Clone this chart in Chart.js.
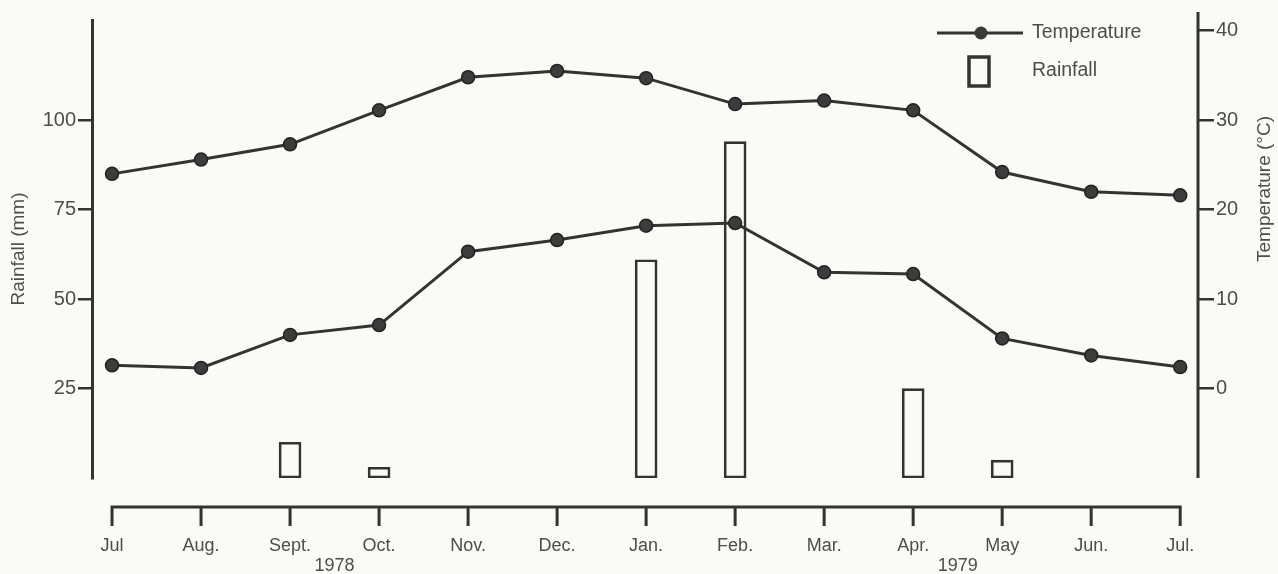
<!DOCTYPE html>
<html>
<head>
<meta charset="utf-8">
<title>Temperature and rainfall, 1978-1979</title>
<script src="https://cdn.jsdelivr.net/npm/chart.js@4.4.1/dist/chart.umd.min.js"></script>
<style>
  html, body { margin: 0; padding: 0; background: #fafaf6; }
  #wrap { width: 1278px; height: 574px; position: relative; }
</style>
</head>
<body>
<div id="wrap"><canvas id="chart"></canvas></div>
<script>
const months = ['Jul', 'Aug.', 'Sept.', 'Oct.', 'Nov.', 'Dec.', 'Jan.', 'Feb.', 'Mar.', 'Apr.', 'May', 'Jun.', 'Jul.'];
const tempMax = [24.0, 25.6, 27.3, 31.1, 34.8, 35.5, 34.7, 31.8, 32.2, 31.1, 24.2, 22.0, 21.6];
const tempMin = [2.6, 2.3, 6.0, 7.1, 15.3, 16.6, 18.2, 18.5, 13.0, 12.8, 5.6, 3.7, 2.4];
const rainfall = [0, 0, 10, 3, 0, 0, 61, 94, 0, 25, 5, 0, 0];
const rainTicks = [25, 50, 75, 100];
const tempTicks = [0, 10, 20, 30, 40];
const years = ['1978', '1979'];

const ink = '#333';
const text = '#4d4d4d';
const family = '"Liberation Sans", Arial, sans-serif';

function points(values) {
  return values.map((v, i) => ({ x: i, y: v }));
}

// axis line under the plot, right border, years, right title and legend
const extras = {
  id: 'extras',
  afterDraw(chart) {
    const { ctx, chartArea, scales } = chart;
    const x = scales.x;
    ctx.save();
    ctx.strokeStyle = ink;
    ctx.lineWidth = 3;

    const ay = 507;
    ctx.beginPath();
    ctx.moveTo(x.getPixelForValue(0) - 1.5, ay);
    ctx.lineTo(x.getPixelForValue(months.length - 1) + 1.5, ay);
    months.forEach((m, i) => {
      const px = x.getPixelForValue(i);
      ctx.moveTo(px, ay);
      ctx.lineTo(px, ay + 19);
    });
    ctx.stroke();

    ctx.beginPath();
    ctx.moveTo(chartArea.right, 12);
    ctx.lineTo(chartArea.right, chartArea.bottom);
    ctx.stroke();

    ctx.fillStyle = text;
    ctx.font = '18px ' + family;
    ctx.textAlign = 'center';
    ctx.textBaseline = 'middle';
    ctx.fillText(years[0], x.getPixelForValue(2.5), 566);
    ctx.fillText(years[1], x.getPixelForValue(9.5), 566);

    ctx.save();
    ctx.translate(1265, 189);
    ctx.rotate(-Math.PI / 2);
    ctx.font = '19px ' + family;
    ctx.fillText('Temperature (°C)', 0, 0);
    ctx.restore();

    // legend
    ctx.beginPath();
    ctx.moveTo(937, 33);
    ctx.lineTo(1023, 33);
    ctx.stroke();
    ctx.beginPath();
    ctx.arc(981, 33, 6.5, 0, Math.PI * 2);
    ctx.fillStyle = '#3a3a3a';
    ctx.fill();
    ctx.lineWidth = 3.5;
    ctx.strokeRect(969, 57, 20, 29);

    ctx.fillStyle = text;
    ctx.textAlign = 'left';
    ctx.font = '19.5px ' + family;
    ctx.fillText('Temperature', 1032, 33);
    ctx.fillText('Rainfall', 1032, 71);
    ctx.restore();
  }
};

const lineStyle = {
  type: 'line',
  yAxisID: 'y1',
  borderColor: ink,
  borderWidth: 3,
  pointRadius: 6.5,
  pointBackgroundColor: '#3c3c3c',
  pointBorderColor: '#222',
  pointBorderWidth: 1.5,
  tension: 0,
  order: 1
};

new Chart(document.getElementById('chart'), {
  type: 'line',
  data: {
    datasets: [
      { ...lineStyle, label: 'Max temperature', data: points(tempMax) },
      { ...lineStyle, label: 'Min temperature', data: points(tempMin) },
      {
        type: 'bar',
        label: 'Rainfall',
        yAxisID: 'y',
        data: points(rainfall.map(v => v || null)),
        barThickness: 22,
        borderWidth: 2,
        borderColor: ink,
        backgroundColor: 'rgba(0,0,0,0)',
        borderSkipped: false,
        order: 2
      }
    ]
  },
  options: {
    responsive: true,
    maintainAspectRatio: false,
    animation: false,
    layout: { padding: { top: 20, right: 0, bottom: 0, left: 0 } },
    plugins: { legend: { display: false }, tooltip: { enabled: false } },
    scales: {
      x: {
        type: 'linear',
        min: -0.225,
        max: 12.2,
        offset: false,
        afterBuildTicks: s => { s.ticks = months.map((m, i) => ({ value: i })); },
        afterFit: s => { s.height = 96; },
        border: { display: false },
        grid: { display: false, drawOnChartArea: false, drawTicks: false },
        ticks: {
          autoSkip: false,
          maxRotation: 0,
          padding: 57,
          color: text,
          font: { family: family, size: 18 },
          callback: v => months[v]
        }
      },
      y: {
        position: 'left',
        min: 0,
        max: 128,
        afterBuildTicks: s => { s.ticks = rainTicks.map(v => ({ value: v })); },
        afterFit: s => { s.width = 92; },
        border: { display: true, color: ink, width: 3 },
        grid: { drawOnChartArea: false, drawTicks: true, tickLength: 14, color: ink, lineWidth: 2.5 },
        ticks: { color: text, padding: 2, font: { family: family, size: 20 } },
        title: {
          display: true,
          text: 'Rainfall (mm)',
          color: text,
          font: { family: family, size: 19 },
          padding: { top: 7, bottom: 0 }
        }
      },
      y1: {
        position: 'right',
        min: -10,
        max: 41.2,
        afterBuildTicks: s => { s.ticks = tempTicks.map(v => ({ value: v })); },
        afterFit: s => { s.width = 80; },
        border: { display: false },
        grid: { drawOnChartArea: false, drawTicks: true, tickLength: 16, color: ink, lineWidth: 2.5 },
        ticks: { color: text, padding: 2, font: { family: family, size: 20 } }
      }
    }
  },
  plugins: [extras]
});
</script>
</body>
</html>
